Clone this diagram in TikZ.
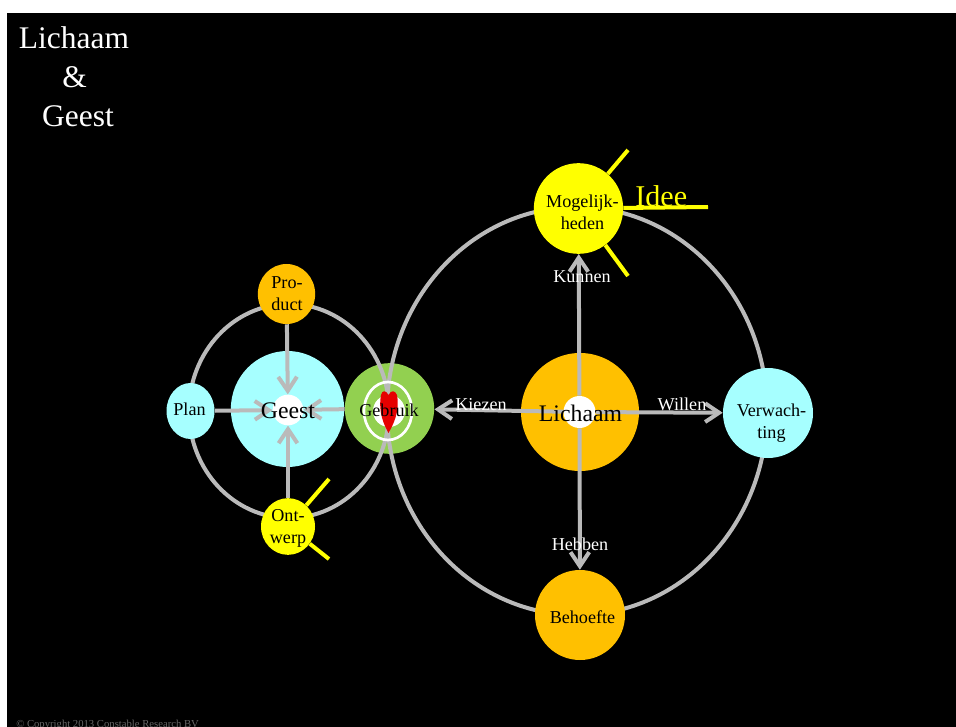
\documentclass[tikz,border=0pt]{standalone}
\usepackage{fontspec}
\setmainfont{Liberation Serif}
\usetikzlibrary{arrows.meta,shapes.geometric}
\definecolor{oranje}{HTML}{FFC000}
\definecolor{lichtblauw}{HTML}{A6FFFF}
\definecolor{groen}{HTML}{92D050}
\definecolor{grijs}{HTML}{BABABA}
\definecolor{geel}{HTML}{FFFF00}
\definecolor{rood}{HTML}{E60000}
\newcommand{\knoopfont}{\fontsize{13.6}{16.5}\selectfont}
\newcommand{\grootfont}{\fontsize{17.8}{21}\selectfont}
\tikzset{
	>={Straight Barb[length=10.5pt,width=14pt]},
	schijf/.style={ellipse,inner sep=0pt},
	hart/.style={ellipse,fill=white,inner sep=0pt,minimum size=24pt},
	ring/.style={draw=grijs,line width=3pt},
	pijl/.style={draw=grijs,line width=3pt,->},
	straal/.style={draw=geel,line width=3pt},
	tekst/.style={align=center,font=\knoopfont,text=black,inner sep=0pt},
	woord/.style={anchor=base,font=\knoopfont,text=white,inner sep=0pt}
}
\begin{document}
\begin{tikzpicture}[x=0.75pt,y=-0.75pt]
	\useasboundingbox (0,0) rectangle (956,727);
	\fill[black] (7,13) rectangle (956,727);
	\node[align=center,text=white,inner sep=0pt,font=\fontsize{23.6}{29.3}\selectfont] (titel) at (74,77) {Lichaam\\\hspace*{1pt}\&\\\hspace*{6pt}Geest};
	\node[text=gray!80!black,anchor=base west,inner sep=0pt,font=\fontsize{8}{10}\selectfont] (copyright) at (16,727) {© Copyright 2013 Constable Research BV};
	% gebruik ligt onder de ringen
	\node[schijf,fill=groen,minimum width=67pt,minimum height=68pt] (gebruik) at (389.5,408.5) {};
	\draw[ring] (289,411) ellipse (100 and 107);
	\draw[ring] (577,411) ellipse (190 and 204);
	% stralen
	\node[schijf,fill=geel,minimum width=67pt,minimum height=68pt] (mogelijk) at (578.5,208.5) {};
	\node[schijf,fill=geel,minimum width=40.5pt,minimum height=42.5pt] (ontwerp) at (288,526.5) {};
	\coordinate (mogelijkboven) at (628,150);
	\coordinate (mogelijkonder) at (628,276);
	\coordinate (ideelijn) at (708,207);
	\coordinate (ontwerpboven) at (329,479);
	\coordinate (ontwerponder) at (329,559);
	\draw[straal] (mogelijk) -- (mogelijkboven);
	\draw[straal] (mogelijk) -- (mogelijkonder);
	\draw[straal] (mogelijk) -- (ideelijn);
	\draw[straal] (ontwerp) -- (ontwerpboven);
	\draw[straal] (ontwerp) -- (ontwerponder);
	\node[anchor=base west,text=geel,inner sep=0pt,font=\fontsize{22.6}{26}\selectfont] (idee) at (635,207) {Idee};
	\node[schijf,fill=lichtblauw,minimum width=36pt,minimum height=42pt] (plan) at (190.5,411) {};
	\node[schijf,fill=oranje,minimum width=43pt,minimum height=45pt] (product) at (286.5,294) {};
	\node[schijf,fill=oranje,minimum width=67.5pt,minimum height=67.5pt] (behoefte) at (580,615) {};
	\node[schijf,fill=lichtblauw,minimum width=67.5pt,minimum height=67.5pt] (verwachting) at (768,413) {};
	\node[schijf,fill=lichtblauw,minimum width=85pt,minimum height=87pt] (geest) at (287.5,409) {};
	\node[schijf,fill=oranje,minimum width=88.5pt,minimum height=88.5pt] (lichaam) at (580,412) {};
	\node[hart,minimum size=23pt] (geesthart) at (288,410) {};
	\node[hart] (lichaamhart) at (579.5,412) {};
	% pijlen
	\draw[pijl] (lichaamhart) -- (mogelijk);
	\draw[pijl] (lichaamhart) -- (behoefte);
	\draw[pijl] (lichaamhart) -- (verwachting);
	\draw[pijl] (lichaamhart) -- (gebruik);
	\draw[pijl] (product) -- (geesthart);
	\draw[pijl] (ontwerp) -- (geesthart);
	\draw[pijl] (plan) -- (geesthart);
	\draw[pijl] (gebruik) -- (geesthart);
	% midden van gebruik
	\node[ellipse,draw=white,line width=2pt,inner sep=0pt,minimum width=36pt,minimum height=43.5pt] (gebruikring) at (388,411) {};
	\node[hart] (gebruikhart) at (389,411) {};
	\fill[rood] (388.5,395) .. controls (386,390) and (382,390) .. (381,395) .. controls (378,412) and (384,425) .. (388.5,433) .. controls (393,425) and (400,412) .. (397,395) .. controls (395,390) and (391,390) .. (388.5,395) -- cycle;
	% teksten
	\node[font=\grootfont,text=black,inner sep=0pt] (geesttekst) at (288,411) {Geest};
	\node[font=\grootfont,text=black,inner sep=0pt] (lichaamtekst) at (580.5,413) {Lichaam};
	\node[tekst] (gebruiktekst) at (389,410) {Gebruik};
	\node[tekst] (mogelijktekst) at (582.5,212.5) {Mogelijk-\\heden};
	\node[tekst] (ontwerptekst) at (288,528) {Ont-\\werp};
	\node[tekst] (plantekst) at (189.5,409) {Plan};
	\node[tekst] (producttekst) at (287,294) {Pro-\\duct};
	\node[tekst] (behoeftetekst) at (582.5,617) {Behoefte};
	\node[tekst] (verwachtingtekst) at (771.5,423) {Verwach-\\ting};
	\node[woord] (kunnen) at (582,282) {Kunnen};
	\node[woord] (hebben) at (580,550) {Hebben};
	\node[woord] (kiezen) at (481,410.5) {Kiezen};
	\node[woord] (willen) at (682,410.5) {Willen};
\end{tikzpicture}
\end{document}
